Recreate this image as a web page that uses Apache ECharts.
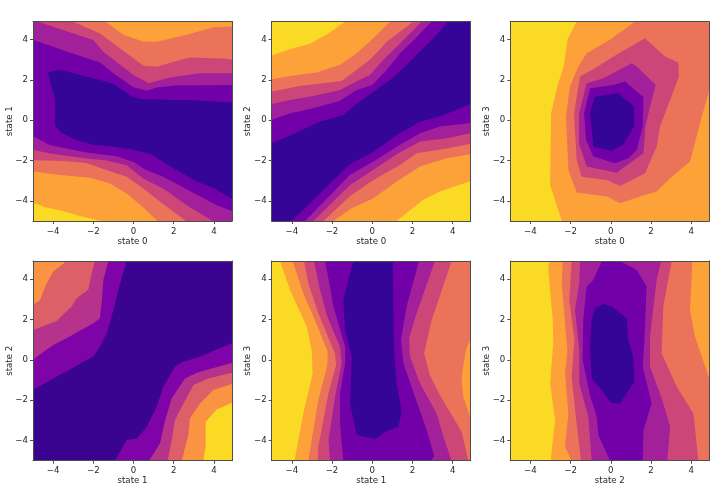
<!DOCTYPE html>
<html><head><meta charset="utf-8">
<style>html,body{margin:0;padding:0;background:#fff}#c{width:727px;height:485px}</style>
<script src="https://cdn.jsdelivr.net/npm/echarts@6/dist/echarts.min.js"></script>
</head><body><div id="c"></div>
<script>
const tickValues = [-4,-2,0,2,4];
const full = [[-5,-5],[4.9,-5],[4.9,4.9],[-5,4.9]];
const C7 = ['#340597','#7200a8','#a2209a','#cc4778','#ea7359','#fca238','#fada24'];
const C6 = ['#3a0490','#7e03a8','#b5338a','#dd6068','#fa9442','#fada24'];

// Panel 1: state 0 / state 1
const p1Dark = [[-4.26,2.38],[-3.6,2.5],[-2.65,2.25],[-1.66,2.0],[-1,1.8],[0,1.14],[.5,1.04],[2,1.0],[3.3,.98],[4.9,.88],[4.9,-3.9],[4,-3.38],[3,-2.96],[2,-2.38],[.83,-1.67],[0,-1.47],[-1,-1.31],[-2,-1.22],[-2.8,-1],[-3.65,-.6],[-3.9,-.23],[-3.9,1]];
const p1U2 = [[-5,4],[-4,3.65],[-3,3.3],[-1.66,2.87],[-1,2.33],[0,1.64],[.66,1.46],[1.16,1.62],[2.16,1.74],[3.3,1.74],[4.9,1.75],[4.9,4.9],[-5,4.9]];
const p1U3 = [[-4.75,4.9],[-3.3,4.4],[-2,3.98],[-1.5,3.4],[0,2.25],[.75,1.84],[1.82,2.12],[3.3,2.33],[4.9,2.33],[4.9,4.9]];
const p1U4 = [[-3.02,4.9],[-1.66,4.3],[-.9,3.74],[0,3.08],[.5,2.7],[1.16,2.66],[2,2.9],[2.8,3.11],[4.64,3.05],[4.9,3],[4.9,4.9]];
const p1U5 = [[-1.4,4.9],[-.5,4.24],[.5,3.9],[1.16,3.9],[2.65,4.24],[3.98,4.62],[4.9,4.65],[4.9,4.9]];
const p1L2 = [[-5,-.78],[-4.15,-1.24],[-2.33,-1.6],[-.84,-1.79],[0,-2.07],[.57,-2.45],[1.48,-2.81],[2.81,-3.51],[4.14,-4.22],[4.9,-4.5],[4.9,-5],[-5,-5]];
const p1L3 = [[-5,-1.46],[-4.15,-1.65],[-2.33,-1.9],[-1.42,-1.99],[-.34,-2.23],[.49,-2.9],[1.48,-3.39],[2.65,-4.22],[3.94,-5],[-5,-5]];
const p1L4 = [[-5,-1.99],[-3.48,-2.02],[-2.33,-2.12],[-1.58,-2.4],[-.34,-2.81],[.49,-3.39],[1.23,-3.97],[2.61,-5],[-5,-5]];
const p1L5 = [[-5,-2.53],[-4,-2.68],[-2.16,-2.85],[-1.17,-3.14],[-.34,-3.64],[.49,-4.33],[1.19,-5],[-5,-5]];
const p1L6 = [[-5,-4.09],[-4.34,-4.33],[-3.5,-4.5],[-2.67,-4.75],[-1.63,-5],[-5,-5]];

// Panel 2: state 0 / state 2
const p2U1 = [[-5,-1.14],[-3.92,-.68],[-2.6,-.07],[-1.44,.26],[-.94,.68],[.06,1.42],[.89,2],[1.55,2.58],[2.38,3.41],[3.04,4.07],[3.79,4.9],[-5,4.9]];
const p2U2 = [[-5,.02],[-4.1,.33],[-2.93,.6],[-1.6,.97],[-.77,1.5],[0,1.75],[.72,2.49],[1.38,3.31],[2.13,4.05],[2.96,4.9],[-5,4.9]];
const p2U3 = [[-5,.8],[-4.1,1],[-2.93,1.2],[-1.6,1.5],[-.69,1.97],[-.11,2.25],[.55,3],[1.22,3.65],[2.05,4.48],[2.46,4.9],[-5,4.9]];
const p2U4 = [[-5,1.43],[-3.6,1.7],[-1.52,1.95],[-.77,2.5],[-.03,3.08],[.72,3.9],[2.05,4.9],[-5,4.9]];
const p2U5 = [[-5,2.04],[-3.92,2.22],[-2.76,2.37],[-1.6,2.75],[-.77,3.33],[.06,4.07],[.89,4.9],[-5,4.9]];
const p2U6 = [[-5,3.21],[-4.1,3.52],[-3.1,3.79],[-2.1,4.35],[-1.35,4.9],[-5,4.9]];
const p2L1 = [[-4,-5],[-2.6,-3.62],[-1.1,-2.17],[.06,-1.56],[1.22,-.73],[2.38,-.07],[3.37,.18],[4.9,.81],[4.9,-5]];
const p2L2 = [[-3.34,-5],[-1.1,-2.71],[.06,-2.05],[1.22,-1.31],[2.38,-.65],[3.37,-.31],[4.9,-.14],[4.9,-5]];
const p2L3 = [[-2.93,-5],[-1.1,-3.21],[.06,-2.46],[1.3,-1.64],[2.38,-1.06],[3.7,-.89],[4.9,-.64],[4.9,-5]];
const p2L4 = [[-2.43,-5],[-1.1,-3.76],[.06,-2.96],[1.38,-2.22],[2.2,-1.64],[3.7,-1.4],[4.9,-1.17],[4.9,-5]];
const p2L5 = [[-1.93,-5],[-1.02,-4.37],[.06,-3.87],[1.22,-3.04],[2.38,-2.3],[3.7,-1.89],[4.9,-1.67],[4.9,-5]];
const p2L6 = [[1.22,-5],[2.54,-3.95],[3.37,-3.54],[4.9,-3.01],[4.9,-5]];

// Panel 3: state 0 / state 3
const p3Yellow = [[-5,4.9],[-1.7,4.9],[-2.16,3.99],[-2.33,2.75],[-2.66,1.67],[-2.97,.35],[-3.02,-3.21],[-2.44,-5],[-5,-5]];
const p3Coral = [[1.2,4.9],[4.77,4.9],[4.9,4.78],[4.9,1.5],[4.44,-.15],[3.94,-2.05],[2.95,-2.88],[2.28,-3.54],[1.45,-3.79],[.46,-4.12],[-.2,-3.79],[-1.7,-3.59],[-2.11,-2.46],[-2.23,.18],[-2.03,1.67],[-1.62,2.66],[-1.2,3.33],[-.04,3.99]];
const p3Pink = [[1.7,4.07],[2.7,3.16],[3.36,2.86],[3.39,2.17],[2.95,1],[2.45,-.31],[2.28,-1.31],[1.70,-2.63],[.46,-3.26],[-.2,-2.96],[-1.45,-2.8],[-1.7,-1.97],[-1.83,.35],[-1.53,2.17],[-.79,2.58],[.13,3.16]];
const p3Magenta = [[1.04,2.83],[1.29,2.67],[2.23,1.75],[1.95,.68],[1.72,-.31],[1.62,-1.64],[.29,-2.6],[-1.2,-2.3],[-1.58,-1.15],[-1.58,.35],[-1.2,1.84],[-.37,2.08]];
const p3Purple = [[.71,1.92],[1.62,1.14],[1.59,-.31],[1.29,-1.47],[.87,-1.89],[.21,-2.13],[-.87,-1.8],[-1.23,-.98],[-1.33,.35],[-1.03,1.59],[.13,1.75]];
const p3Dark = [[-.79,1.17],[.37,1.34],[1.15,.68],[1.15,-.31],[.62,-1.22],[.04,-1.52],[-.87,-1.31],[-1.03,.35]];

// Panel 4: state 1 / state 2
const p4U1 = [[-5,-1.5],[-3.99,-.92],[-2,.16],[-1.67,.65],[-1.33,1.32],[-1.09,2.14],[-.75,3.47],[-.34,4.9],[-5,4.9]];
const p4U2 = [[-5,.02],[-3.99,.74],[-3.33,1.07],[-2,1.81],[-1.67,2.06],[-1.58,2.89],[-1.5,3.96],[-1.25,4.9],[-5,4.9]];
const p4U3 = [[-5,1.48],[-3.82,1.93],[-3.08,2.64],[-2.83,3.05],[-2.25,3.47],[-2.08,4.29],[-1.92,4.9],[-5,4.9]];
const p4U4 = [[-5,2.72],[-4.65,2.97],[-4.32,3.8],[-3.99,4.38],[-3.33,4.9],[-5,4.9]];
const p4L1 = [[-.92,-5],[-.34,-3.98],[.16,-3.9],[.66,-3.32],[1.15,-2.32],[1.48,-1.33],[2.06,-.34],[2.4,-.12],[3.31,.16],[4.9,.82],[4.9,-5]];
const p4L2 = [[.77,-5],[1.32,-4.14],[1.57,-2.99],[1.9,-1.91],[2.56,-.92],[3.14,-.64],[4.9,-.14],[4.9,-5]];
const p4L3 = [[1.7,-5],[1.9,-3.98],[2.06,-2.99],[2.4,-2.32],[2.98,-1.25],[3.72,-.92],[4.9,-.64],[4.9,-5]];
const p4L4 = [[2.4,-5],[2.73,-3.73],[2.81,-2.9],[3.31,-2.16],[3.97,-1.5],[4.9,-1.2],[4.9,-5]];
const p4L5 = [[3.47,-5],[3.59,-4.31],[3.59,-3.07],[4.14,-2.46],[4.9,-2.13],[4.9,-5]];

// Panel 5: state 1 / state 3
const p5Dark = [[-.94,4.9],[-1.44,2.97],[-1.35,1.48],[-1.02,.16],[-1.1,-2.16],[-.77,-3.73],[.14,-3.93],[.64,-3.56],[1.3,-3.32],[1.47,-2.57],[1.22,-1.17],[1.08,.49],[1.02,4.9]];
const p5A2 = [[-5,4.9],[-2.35,4.9],[-2.1,3.63],[-1.93,2.64],[-1.35,.65],[-1.35,-.17],[-1.6,-1.66],[-1.6,-3.15],[-1.44,-5],[-5,-5]];
const p5A3 = [[-5,4.9],[-2.9,4.9],[-2.6,3.47],[-2.23,2.14],[-1.6,.65],[-1.52,-.17],[-1.85,-1.83],[-2.17,-3.98],[-2.1,-5],[-5,-5]];
const p5A4 = [[-5,4.9],[-3.39,4.9],[-3.18,3.8],[-2.68,2.31],[-1.85,.32],[-1.8,-.26],[-2.18,-1.66],[-2.68,-4.31],[-2.71,-5],[-5,-5]];
const p5A5 = [[-5,4.9],[-3.96,4.9],[-3.43,3.3],[-2.85,1.98],[-2.22,.4],[-2.23,-.26],[-2.68,-1.99],[-3.18,-5],[-5,-5]];
const p5A6 = [[-5,4.9],[-4.59,4.9],[-4.09,3.47],[-3.26,1.65],[-3.01,.49],[-2.96,-.67],[-3.43,-2.66],[-3.87,-5],[-5,-5]];
const p5B2 = [[2.33,4.9],[1.71,2.64],[1.43,.98],[1.55,-.17],[2.13,-1.83],[2.71,-3.48],[3.09,-4.77],[2.91,-5],[4.9,-5],[4.9,4.9]];
const p5B3 = [[3.12,4.9],[2.21,2.31],[1.83,1.07],[1.88,.16],[2.38,-1.17],[3.21,-2.66],[3.54,-3.81],[3.95,-5],[4.9,-5],[4.9,4.9]];
const p5B4 = [[3.95,4.9],[2.96,1.98],[2.58,.32],[2.87,-.75],[3.37,-1.75],[4.45,-3.56],[4.78,-5],[4.9,-5],[4.9,4.9]];
const p5B5 = [[4.9,1.07],[4.66,.49],[4.53,-.34],[4.45,-.92],[4.53,-1.83],[4.9,-2.9]];

// Panel 6: state 2 / state 3
const p6Dark = [[-.79,2.56],[-.37,2.77],[.04,2.64],[.79,2.06],[.87,.98],[1.12,.16],[1.17,-1.08],[.46,-2.16],[0,-2.13],[-.45,-1.5],[-.95,-.92],[-1.03,.65],[-.95,1.98]];
const p6Purple = [[-.45,4.9],[.46,4.9],[1.29,4.45],[1.78,3.65],[1.7,1.5],[1.59,-.34],[2.03,-2.16],[1.62,-3.5],[1.59,-5],[-.04,-5],[-.62,-3.73],[-.7,-2.8],[-1.03,-1.8],[-1.4,0],[-1.37,2],[-1.2,3.63],[-.87,3.96]];
const p6A3 = [[-5,4.9],[-1.53,4.9],[-1.57,3.8],[-1.78,2.5],[-1.57,.49],[-1.57,-1.17],[-1.12,-2.8],[-.95,-5],[-5,-5]];
const p6A4 = [[-5,4.9],[-1.95,4.9],[-2.06,2.97],[-1.81,.98],[-1.95,-.84],[-1.7,-3.15],[-1.48,-5],[-5,-5]];
const p6A5 = [[-5,4.9],[-2.39,4.9],[-2.44,3.8],[-2.28,1.81],[-2.16,.49],[-2.28,-.67],[-2.11,-2.66],[-2.28,-4.31],[-1.95,-5],[-5,-5]];
const p6A6 = [[-5,4.9],[-3.08,4.9],[-3.11,4.46],[-2.89,1.98],[-2.86,.82],[-3.02,-1.17],[-2.77,-2.99],[-2.99,-5],[-5,-5]];
const p6B3 = [[2.5,4.9],[2.28,3.96],[1.95,1.15],[1.95,-.34],[2.56,-1.99],[2.95,-3.32],[2.81,-5],[4.9,-5],[4.9,4.9]];
const p6B4 = [[3.03,4.9],[2.61,2.64],[2.53,.32],[3.28,-1.33],[4.11,-2.66],[4.36,-5],[4.9,-5],[4.9,4.9]];
const p6B5 = [[4.06,4.9],[3.94,2.47],[4.19,1.15],[4.9,-.92],[4.9,4.9]];

const panels = [
 {x:'state 0',y:'state 1',left:33,top:21.5,h:199.5,colors:C7,layers:[[1,full],[0,p1Dark],[2,p1U2],[3,p1U3],[4,p1U4],[5,p1U5],[2,p1L2],[3,p1L3],[4,p1L4],[5,p1L5],[6,p1L6]]},
 {x:'state 0',y:'state 2',left:271.7,top:21.5,h:199.5,colors:C7,layers:[[0,full],[1,p2U1],[2,p2U2],[3,p2U3],[4,p2U4],[5,p2U5],[6,p2U6],[1,p2L1],[2,p2L2],[3,p2L3],[4,p2L4],[5,p2L5],[6,p2L6]]},
 {x:'state 0',y:'state 3',left:510.3,top:21.5,h:199.5,colors:C7,layers:[[5,full],[6,p3Yellow],[4,p3Coral],[3,p3Pink],[2,p3Magenta],[1,p3Purple],[0,p3Dark]]},
 {x:'state 1',y:'state 2',left:33,top:261,h:199.7,colors:C6,layers:[[0,full],[1,p4U1],[2,p4U2],[3,p4U3],[4,p4U4],[1,p4L1],[2,p4L2],[3,p4L3],[4,p4L4],[5,p4L5]]},
 {x:'state 1',y:'state 3',left:271.7,top:261,h:199.7,colors:C7,layers:[[1,full],[0,p5Dark],[2,p5A2],[3,p5A3],[4,p5A4],[5,p5A5],[6,p5A6],[2,p5B2],[3,p5B3],[4,p5B4],[5,p5B5]]},
 {x:'state 2',y:'state 3',left:510.3,top:261,h:199.7,colors:C7,layers:[[2,full],[1,p6Purple],[0,p6Dark],[3,p6A3],[4,p6A4],[5,p6A5],[6,p6A6],[3,p6B3],[4,p6B4],[5,p6B5]]}
];

const frame = '#4d4d4d', ink = '#262626', fs = 8.6, font = 'DejaVu Sans';
const minus = v => String(v).replace('-', '\u2212');
const grids=[], xAxes=[], yAxes=[], series=[];
panels.forEach((p,i)=>{
  grids.push({left:p.left,top:p.top,width:199,height:p.h,containLabel:false,outerBoundsMode:'none'});
  const base = {min:-5,max:4.9,type:'value',gridIndex:i,z:5,splitLine:{show:false},
    axisLine:{show:true,onZero:false,lineStyle:{color:frame,width:1}}};
  const main = {...base,
    axisTick:{show:true,length:3,customValues:tickValues,lineStyle:{color:frame,width:1}},
    nameLocation:'middle',nameMoveOverlap:false,nameTextStyle:{color:ink,fontSize:fs,fontFamily:font}};
  const lab = {show:true,customValues:tickValues,formatter:minus,color:ink,fontSize:fs,fontFamily:font};
  const other = {...base,axisTick:{show:false},axisLabel:{show:false}};
  xAxes.push({...main,axisLabel:{...lab,margin:6},position:'bottom',name:p.x,nameGap:16});
  xAxes.push({...other,position:'top'});
  yAxes.push({...main,axisLabel:{...lab,margin:5},position:'left',name:p.y,nameGap:19});
  yAxes.push({...other,position:'right'});
  p.layers.forEach(([lvl,pts])=>{
    series.push({type:'custom',coordinateSystem:'cartesian2d',xAxisIndex:i*2,yAxisIndex:i*2,
      silent:true,animation:false,clip:true,progressive:0,data:pts,encode:{x:0,y:1},
      renderItem:(params,api)=>params.dataIndex===0?{type:'polygon',shape:{points:pts.map(q=>api.coord(q))},style:{fill:p.colors[lvl]}}:null});
  });
});
const chart = echarts.init(document.getElementById('c'),null,{renderer:'canvas'});
chart.setOption({animation:false,backgroundColor:'#fff',grid:grids,xAxis:xAxes,yAxis:yAxes,series});
</script></body></html>
